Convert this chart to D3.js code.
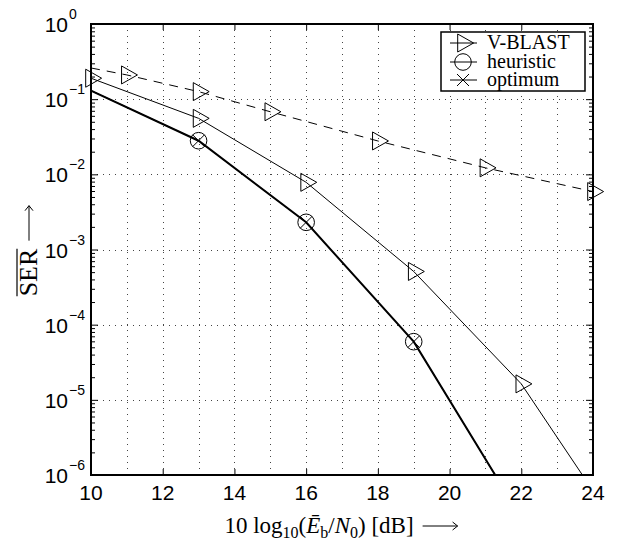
<!DOCTYPE html>
<html lang="en">
<head>
    <script src='https://d3js.org/d3.v7.min.js'></script>
</head>
<body style="margin:0;background:#fff">
<style>
svg text.tick {
font-family: "Liberation Sans", Arial, sans-serif;
fill: #000;
}
svg text.lab {
font-family: "Liberation Serif", "Times New Roman", serif;
fill: #000;
}
</style>
<script>
// data
var xTicks = [10, 12, 14, 16, 18, 20, 22, 24];
var yExp = [0, -1, -2, -3, -4, -5, -6];

// dashed triangle curve (no legend entry)
var xDashed = [10, 11, 13, 15, 18, 21, 24];
var serDashed = [0.26, 0.21, 0.126, 0.068, 0.0278, 0.0122, 0.0059];
var markDashed = [0, 1, 1, 1, 1, 1, 1];

// V-BLAST
var xVblast = [10, 13, 16, 19, 22, 25];
var serVblast = [0.19, 0.0556, 0.00783, 5.1e-4, 1.63e-5, 1.2e-7];
var markVblast = [1, 1, 1, 1, 1, 0];

// heuristic and optimum (lie on top of each other)
var xHeur = [10, 13, 16, 19, 22];
var serHeur = [0.13, 0.028, 0.0023, 5.94e-5, 2.7e-7];
var markHeur = [0, 1, 1, 1, 0];
var xOpt = [10, 13, 16, 19, 22];
var serOpt = [0.13, 0.028, 0.0023, 5.94e-5, 2.7e-7];
var markOpt = [0, 1, 1, 1, 0];

var legendNames = ["V-BLAST", "heuristic", "optimum"];

var width = 627, height = 542;
var pL = 91, pR = 593, pT = 24, pB = 475;

var svg = d3.select("body").append("svg")
.attr("width", width)
.attr("height", height);

var x = d3.scaleLinear().domain([10, 24]).range([pL, pR]);
var y = d3.scaleLog().domain([1e-6, 1]).range([pB, pT]);

svg.append("clipPath").attr("id", "clip")
.append("rect").attr("x", pL).attr("y", pT)
.attr("width", pR - pL).attr("height", pB - pT);

// dotted grid
var grid = svg.append("g").attr("stroke", "#444").attr("stroke-width", 1)
.attr("stroke-dasharray", "1,5");
grid.selectAll(".gx").data(d3.range(11, 24)).enter().append("line")
.attr("x1", function(d) { return Math.round(x(d)) + 0.5; })
.attr("x2", function(d) { return Math.round(x(d)) + 0.5; })
.attr("y1", pT).attr("y2", pB);
grid.selectAll(".gy").data(yExp.slice(1, 6)).enter().append("line")
.attr("y1", function(d) { return Math.round(y(Math.pow(10, d))) + 0.5; })
.attr("y2", function(d) { return Math.round(y(Math.pow(10, d))) + 0.5; })
.attr("x1", pL).attr("x2", pR);

function pts(xs, ys) {
return xs.map(function(v, i) { return [v, ys[i]]; });
}
var line = d3.line().x(function(d) { return x(d[0]); }).y(function(d) { return y(d[1]); });

var plot = svg.append("g").attr("clip-path", "url(#clip)").attr("fill", "none").attr("stroke", "#000");
plot.append("path").attr("d", line(pts(xDashed, serDashed)))
.attr("stroke-width", 1).attr("stroke-dasharray", "9,7");
plot.append("path").attr("d", line(pts(xVblast, serVblast))).attr("stroke-width", 1);
plot.append("path").attr("d", line(pts(xOpt, serOpt))).attr("stroke-width", 2);
plot.append("path").attr("d", line(pts(xHeur, serHeur))).attr("stroke-width", 1);

// marker shapes
var tri = "M-5.3,-9L10.6,0L-5.3,9Z";
var cross = "M-6,-6L6,6M-6,6L6,-6";

function markers(xs, ys, flags, shape) {
var data = pts(xs, ys).filter(function(d, i) { return flags[i]; });
var g = svg.append("g").attr("fill", "none").attr("stroke", "#000").attr("stroke-width", 1);
var m = g.selectAll("g").data(data).enter().append("g")
.attr("transform", function(d) { return "translate(" + x(d[0]) + "," + y(d[1]) + ")"; });
if (shape == "circle") m.append("circle").attr("r", 8.3);
else m.append("path").attr("d", shape);
}
markers(xDashed, serDashed, markDashed, tri);
markers(xVblast, serVblast, markVblast, tri);
markers(xHeur, serHeur, markHeur, "circle");
markers(xOpt, serOpt, markOpt, cross);

// axes: ticks pointing inward
var xAxisB = d3.axisBottom(x).tickValues(xTicks).tickSizeInner(-6).tickSizeOuter(0).tickFormat("");
var xAxisT = d3.axisTop(x).tickValues(xTicks).tickSizeInner(-6).tickSizeOuter(0).tickFormat("");
var minor = [];
yExp.forEach(function(e) {
if (e > -6) for (var k = 2; k <= 9; k++) minor.push(k * Math.pow(10, e - 1));
});
var majors = yExp.map(function(e) { return Math.pow(10, e); });
var yAxisL = d3.axisLeft(y).tickValues(majors).tickSizeInner(-7).tickSizeOuter(0).tickFormat("");
var yAxisR = d3.axisRight(y).tickValues(majors).tickSizeInner(-7).tickSizeOuter(0).tickFormat("");
var yMinL = d3.axisLeft(y).tickValues(minor).tickSizeInner(-4).tickSizeOuter(0).tickFormat("");
var yMinR = d3.axisRight(y).tickValues(minor).tickSizeInner(-4).tickSizeOuter(0).tickFormat("");

svg.append("g").attr("transform", "translate(0," + pB + ")").call(xAxisB);
svg.append("g").attr("transform", "translate(0," + pT + ")").call(xAxisT);
svg.append("g").attr("transform", "translate(" + pL + ",0)").call(yAxisL);
svg.append("g").attr("transform", "translate(" + pR + ",0)").call(yAxisR);
svg.append("g").attr("transform", "translate(" + pL + ",0)").call(yMinL);
svg.append("g").attr("transform", "translate(" + pR + ",0)").call(yMinR);
svg.selectAll(".domain").remove();
svg.selectAll(".tick line").attr("stroke", "#000").attr("stroke-width", 1);

svg.append("rect").attr("x", pL).attr("y", pT)
.attr("width", pR - pL).attr("height", pB - pT)
.attr("fill", "none").attr("stroke", "#000").attr("stroke-width", 2);

// tick labels
svg.selectAll(".xl").data(xTicks).enter().append("text")
.attr("class", "tick")
.attr("x", function(d) { return x(d); })
.attr("y", pB + 25)
.attr("text-anchor", "middle")
.style("font-size", "21px")
.text(function(d) { return d; });

var yl = svg.selectAll(".yl").data(yExp).enter().append("g")
.attr("transform", function(d) { return "translate(0," + y(Math.pow(10, d)) + ")"; });
yl.append("text").attr("class", "tick").attr("x", 68).attr("y", 8)
.attr("text-anchor", "end").style("font-size", "21px").text("10");
yl.append("text").attr("class", "tick").attr("x", 69).attr("y", -5)
.style("font-size", "14px")
.text(function(d) { return d == 0 ? "0" : "\u2212" + (-d); });

// arrow drawn after a label
function arrow(g, x0, yy) {
g.append("path").attr("d", "M" + x0 + "," + yy + "H" + (x0 + 35) +
"M" + (x0 + 30) + "," + (yy - 4) + "L" + (x0 + 35) + "," + yy + "L" + (x0 + 30) + "," + (yy + 4))
.attr("fill", "none").attr("stroke", "#000").attr("stroke-width", 1);
}

// x label
var xg = svg.append("g");
var xt = xg.append("text").attr("class", "lab").attr("x", 0).attr("y", 0).style("font-size", "23px");
xt.append("tspan").text("10 log");
xt.append("tspan").attr("dy", 5).style("font-size", "16px").text("10");
xt.append("tspan").attr("dy", -5).text("(");
xt.append("tspan").style("font-style", "italic").text("E\u0304");
xt.append("tspan").attr("dy", 5).style("font-size", "16px").text("b");
xt.append("tspan").attr("dy", -5).text("/");
xt.append("tspan").style("font-style", "italic").text("N");
xt.append("tspan").attr("dy", 5).style("font-size", "16px").text("0");
xt.append("tspan").attr("dy", -5).text(") [dB]");
var xw = xt.node().getComputedTextLength();
arrow(xg, xw + 9, -7);
var xtot = xw + 9 + 35;
xg.attr("transform", "translate(" + (341 - xtot / 2) + ",533)");

// y label
var yg = svg.append("g");
var yt = yg.append("text").attr("class", "lab").attr("x", 0).attr("y", 0).style("font-size", "26px").text("SER");
var yw = yt.node().getComputedTextLength();
yg.append("line").attr("x1", 0).attr("x2", yw).attr("y1", -20).attr("y2", -20)
.attr("stroke", "#000").attr("stroke-width", 1.2);
arrow(yg, yw + 8, -8);
var ytot = yw + 8 + 35;
yg.attr("transform", "translate(37," + (251 + ytot / 2) + ") rotate(-90)");

// legend
var lg = svg.append("g");
lg.append("rect").attr("x", 441).attr("y", 32).attr("width", 144).attr("height", 59)
.attr("fill", "#fff").attr("stroke", "#000").attr("stroke-width", 1.5);
var rowY = [43, 62, 80];
var shapes = [tri, "circle", cross];
legendNames.forEach(function(name, i) {
var r = lg.append("g").attr("transform", "translate(0," + rowY[i] + ")");
r.append("line").attr("x1", 450).attr("x2", 477).attr("y1", 0).attr("y2", 0)
.attr("stroke", "#000").attr("stroke-width", 1);
var m = r.append("g").attr("transform", "translate(463,0)")
.attr("fill", "none").attr("stroke", "#000").attr("stroke-width", 1);
if (shapes[i] == "circle") m.append("circle").attr("r", 8.3);
else m.append("path").attr("d", shapes[i]);
r.append("text").attr("class", "lab").attr("x", 487).attr("y", 6)
.style("font-size", "20px").text(name);
});
</script>
</body>
</html>
